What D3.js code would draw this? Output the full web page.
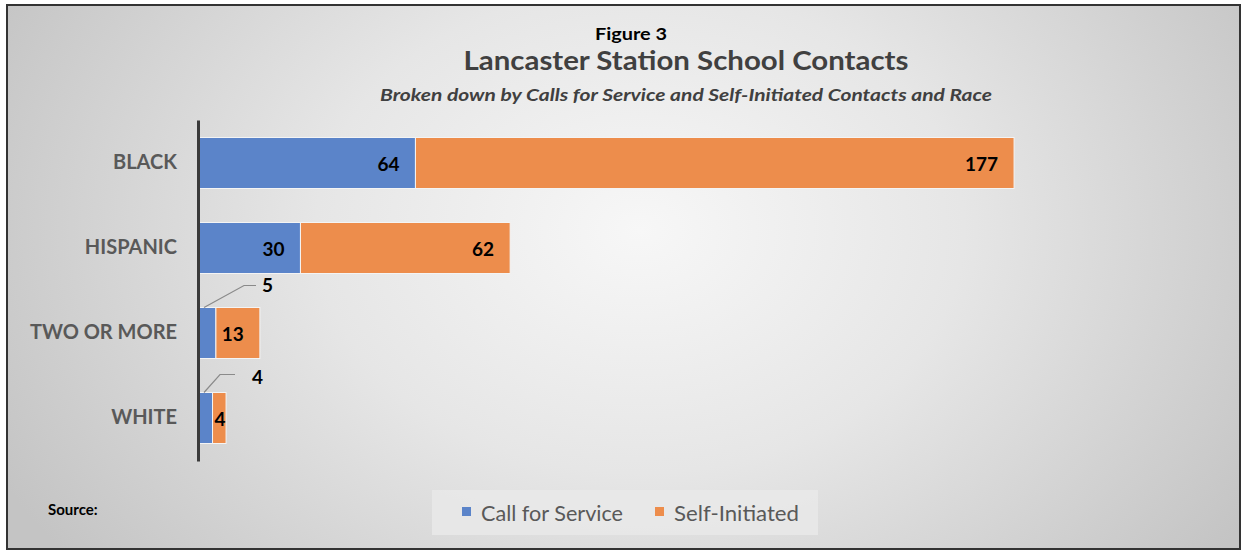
<!DOCTYPE html>
<html>
<head>
<meta charset="utf-8">
<script src="https://cdn.jsdelivr.net/npm/d3@7"></script>
<style>
  html, body { margin: 0; padding: 0; background: #ffffff; }
  svg { display: block; }
</style>
</head>
<body>
<svg id="chart" width="1243" height="552"></svg>
<script>
// Contacts by race, split into calls for service and self-initiated contacts
const categories = ["BLACK", "HISPANIC", "TWO OR MORE", "WHITE"];
const callForService = [64, 30, 5, 4];
const selfInitiated = [177, 62, 13, 4];
const seriesNames = ["Call for Service", "Self-Initiated"];
const seriesColors = ["#5b84c9", "#ed8d4c"];

const svg = d3.select("#chart");
const W = 1243, H = 552;
const font = "Lato, 'Open Sans', 'DejaVu Sans', sans-serif";

// Background panel with soft radial shading
const defs = svg.append("defs");
const grad = defs.append("radialGradient")
  .attr("id", "bg").attr("gradientUnits", "userSpaceOnUse")
  .attr("cx", 640).attr("cy", 230).attr("r", 720)
  .attr("gradientTransform", "translate(640,230) scale(1,0.75) translate(-640,-230)");
grad.append("stop").attr("offset", "0%").attr("stop-color", "#f7f7f7");
grad.append("stop").attr("offset", "45%").attr("stop-color", "#e6e6e6");
grad.append("stop").attr("offset", "100%").attr("stop-color", "#c4c4c4");

svg.append("rect").attr("x", 0).attr("y", 0).attr("width", W).attr("height", H).attr("fill", "#ffffff");
svg.append("rect")
  .attr("x", 7).attr("y", 5).attr("width", 1233).attr("height", 544)
  .attr("fill", "url(#bg)").attr("stroke", "#333333").attr("stroke-width", 2);

// Titles
svg.append("text").attr("x", 631).attr("y", 40).attr("text-anchor", "middle")
  .attr("font-family", font).attr("font-weight", 700).attr("font-size", 17)
  .attr("textLength", 72).attr("lengthAdjust", "spacingAndGlyphs")
  .attr("fill", "#000000").text("Figure 3");
svg.append("text").attr("x", 686).attr("y", 70).attr("text-anchor", "middle")
  .attr("font-family", font).attr("font-weight", 700).attr("font-size", 26)
  .attr("textLength", 445).attr("lengthAdjust", "spacingAndGlyphs")
  .attr("fill", "#404040").text("Lancaster Station School Contacts");
svg.append("text").attr("x", 686).attr("y", 101).attr("text-anchor", "middle")
  .attr("font-family", font).attr("font-weight", 700).attr("font-style", "italic").attr("font-size", 17)
  .attr("textLength", 612).attr("lengthAdjust", "spacingAndGlyphs")
  .attr("fill", "#404040").text("Broken down by Calls for Service and Self-Initiated Contacts and Race");

// Scales
const x = d3.scaleLinear().domain([0, 250]).range([199, 1044.5]);
const y = d3.scaleBand().domain(categories).range([120.5, 460.5]).paddingInner(0.4).paddingOuter(0.2);

const rows = categories.map((c, i) => ({ cat: c, a: callForService[i], b: selfInitiated[i] }));

// Category axis
const yAxis = d3.axisLeft(y).tickSize(0).tickPadding(22);
const gy = svg.append("g").attr("transform", `translate(${x(0)},0)`).call(yAxis);
gy.select(".domain").remove();
gy.selectAll("text")
  .attr("font-family", font).attr("font-weight", 700).attr("font-size", 20)
  .attr("fill", "#595959");

// Bars
const stack = d3.stack().keys(["a", "b"])(rows);
stack.forEach((layer, li) => {
  svg.append("g").selectAll("rect").data(layer).join("rect")
    .attr("x", d => x(d[0]))
    .attr("y", d => y(d.data.cat))
    .attr("width", d => x(d[1]) - x(d[0]))
    .attr("height", y.bandwidth())
    .attr("fill", seriesColors[li])
    .attr("stroke", "#f4f4f4").attr("stroke-width", 1);
});

// Axis line drawn over the bar bases
svg.append("line")
  .attr("x1", x(0) - 0.5).attr("x2", x(0) - 0.5)
  .attr("y1", y.range()[0]).attr("y2", y.range()[1] + 1)
  .attr("stroke", "#3a3a3a").attr("stroke-width", 3);

// Value labels
function addLabel(xp, yp, txt, anchor) {
  return svg.append("text").attr("x", xp).attr("y", yp)
    .attr("text-anchor", anchor).attr("dominant-baseline", "central")
    .attr("font-family", font).attr("font-weight", 700)
    .attr("font-size", 19).attr("fill", "#000000").text(txt);
}

// Leader-line layout for labels of very narrow first segments
const leader = {
  "TWO OR MORE": { dx: 40, dy: -22, run: 12, gap: 6, ly: -1 },
  "WHITE": { dx: 16, dy: -18, run: 15, gap: 17, ly: 2 }
};

stack.forEach((layer, li) => {
  layer.forEach(d => {
    const x0 = x(d[0]), x1 = x(d[1]);
    const cy = y(d.data.cat) + y.bandwidth() / 2;
    const txt = String(d[1] - d[0]);
    const w = txt.length * 10.5;
    if (x1 - x0 < 22) {
      if (li === 0) {
        const top = y(d.data.cat);
        const L = leader[d.data.cat];
        const sx = x0 + 5, sy = top;
        const kx = sx + L.dx, ky = sy + L.dy;
        svg.append("polyline")
          .attr("points", `${sx},${sy} ${kx},${ky} ${kx + L.run},${ky}`)
          .attr("fill", "none").attr("stroke", "#8a8a8a").attr("stroke-width", 1.2);
        addLabel(kx + L.run + L.gap, ky + L.ly, txt, "start");
      } else {
        addLabel(x0 + 2, cy, txt, "start");
      }
    } else if (x1 - 16 - w < x0 + 2) {
      addLabel(x0 + 4, cy, txt, "start");
    } else {
      addLabel(x1 - 16, cy, txt, "end");
    }
  });
});

// Source note
svg.append("text").attr("x", 48).attr("y", 515)
  .attr("font-family", font).attr("font-weight", 700).attr("font-size", 15)
  .attr("fill", "#000000").text("Source:");

// Legend
const legend = svg.append("g");
legend.append("rect").attr("x", 432).attr("y", 490).attr("width", 386).attr("height", 45)
  .attr("fill", "#e9e9e9").attr("opacity", 0.85);
const legendX = [462, 655];
const legendW = [142, 125];
seriesNames.forEach((n, i) => {
  legend.append("rect").attr("x", legendX[i]).attr("y", 507).attr("width", 9).attr("height", 9)
    .attr("fill", seriesColors[i]);
  legend.append("text").attr("x", legendX[i] + 19).attr("y", 512)
    .attr("dominant-baseline", "central")
    .attr("textLength", legendW[i]).attr("lengthAdjust", "spacingAndGlyphs")
    .attr("font-family", font).attr("font-size", 21).attr("fill", "#595959").text(n);
});
</script>
</body>
</html>
